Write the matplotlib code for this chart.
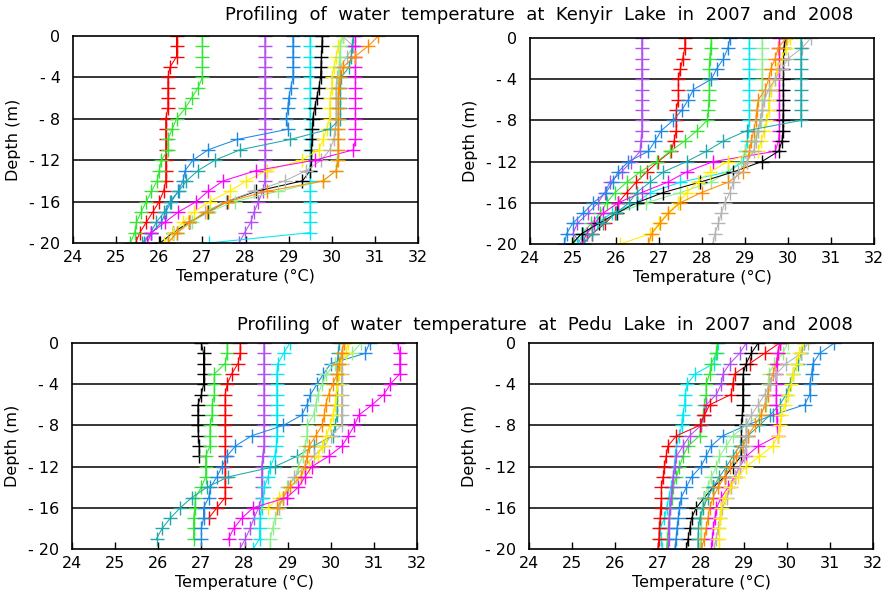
import numpy as np
import matplotlib.pyplot as plt

# depth levels (m), one reading per metre
DEPTHS = list(range(0, -21, -1))

COLORS = ['#ff0000', '#33e633', '#b050f0', '#1e88e5', '#00e8f0', '#000000',
          '#ffee00', '#b4b4b4', '#20a8a8', '#ff00ff', '#90ee90', '#ff8c00']

X_TICKS = [24, 25, 26, 27, 28, 29, 30, 31, 32]
Y_TICKS = [0, -4, -8, -12, -16, -20]

TITLE_KENYIR = 'Profiling  of  water  temperature  at  Kenyir  Lake  in  2007  and  2008'
TITLE_PEDU = 'Profiling  of  water  temperature  at  Pedu  Lake  in  2007  and  2008'

# Kenyir, left panel
red_k1 = [26.4, 26.4, 26.4, 26.25, 26.2, 26.2, 26.2, 26.2, 26.15, 26.15, 26.15,
          26.15, 26.15, 26.15, 26.15, 26.1, 26.0, 25.85, 25.7, 25.55, 25.45]
lime_k1 = [27.0, 27.0, 27.0, 27.0, 27.0, 26.9, 26.75, 26.6, 26.4, 26.3, 26.2,
           26.2, 26.05, 26.0, 25.95, 25.82, 25.7, 25.58, 25.47, 25.43, 25.33]
purple_k1 = [28.45, 28.45, 28.45, 28.45, 28.45, 28.45, 28.45, 28.45, 28.45, 28.45, 28.45,
             28.45, 28.45, 28.45, 28.45, 28.4, 28.3, 28.2, 28.12, 27.98, 27.85]
blue_k1 = [29.1, 29.1, 29.1, 29.1, 29.1, 29.05, 29.0, 28.98, 28.95, 28.99, 27.8,
           27.13, 26.78, 26.6, 26.55, 26.44, 26.28, 26.15, 26.05, 25.82, 25.64]
cyan_k1 = [29.5, 29.5, 29.5, 29.5, 29.5, 29.5, 29.5, 29.5, 29.5, 29.5, 29.5,
           29.5, 29.5, 29.5, 29.5, 29.5, 29.5, 29.5, 29.5, 29.5, 27.15]
black_k1 = [29.78, 29.77, 29.76, 29.75, 29.74, 29.7, 29.65, 29.6, 29.56, 29.55, 29.54,
            29.53, 29.53, 29.5, 29.32, 28.25, 27.56, 27.13, 26.69, 26.32, 26.02]
yellow_k1 = [30.25, 30.15, 30.1, 30.05, 30.0, 30.0, 29.97, 29.95, 29.95, 29.88, 29.8,
             29.7, 29.3, 28.5, 28.02, 27.63, 27.17, 26.8, 26.55, 26.33, 26.1]
gray_k1 = [30.25, 30.5, 30.35, 30.2, 30.12, 30.1, 30.1, 30.1, 30.1, 30.08, 30.05,
           29.95, 29.76, 29.41, 28.91, 28.2, 27.55, 27.05, 26.72, 26.42, 26.2]
teal_k1 = [30.5, 30.47, 30.45, 30.4, 30.22, 30.2, 30.2, 30.2, 30.2, 29.95, 29.03,
           27.87, 27.29, 26.9, 26.63, 26.45, 26.24, 26.12, 25.93, 25.8, 25.6]
magenta_k1 = [30.55, 30.55, 30.55, 30.55, 30.55, 30.55, 30.55, 30.55, 30.55, 30.55, 30.55,
              30.5, 29.6, 28.25, 27.48, 27.13, 26.86, 26.44, 26.13, 25.82, 25.72]
lgreen_k1 = [30.25, 30.2, 30.18, 30.17, 30.15, 30.15, 30.15, 30.15, 30.15, 30.15, 30.15,
             30.15, 30.12, 30.1, 29.8, 28.76, 27.75, 27.15, 26.75, 26.42, 26.2]
orange_k1 = [31.08, 30.84, 30.53, 30.26, 30.18, 30.16, 30.15, 30.15, 30.15, 30.15, 30.15,
             30.15, 30.15, 30.1, 29.8, 28.5, 27.6, 27.1, 26.7, 26.4, 26.2]

# Kenyir, right panel
purple_k2 = [26.6, 26.6, 26.6, 26.6, 26.6, 26.6, 26.6, 26.6, 26.6, 26.6, 26.58,
             26.56, 26.35, 26.13, 25.86, 25.74, 25.58, 25.35, 25.1, 25.0, 25.2]
red_k2 = [27.6, 27.6, 27.55, 27.5, 27.45, 27.45, 27.45, 27.4, 27.4, 27.4, 27.35,
          27.28, 26.98, 26.71, 26.47, 26.25, 26.05, 25.98, 25.75, 25.45, 25.2]
lime_k2 = [28.22, 28.2, 28.18, 28.17, 28.17, 28.17, 28.16, 28.15, 28.12, 27.88, 27.6,
           27.26, 26.95, 26.56, 26.25, 25.98, 25.78, 25.63, 25.43, 25.2, 25.0]
blue_k2 = [28.65, 28.6, 28.5, 28.34, 28.22, 27.8, 27.68, 27.53, 27.33, 27.05, 26.91,
           26.75, 26.29, 26.05, 25.92, 25.77, 25.47, 25.24, 24.99, 24.85, 24.8]
cyan_k2 = [29.1, 29.1, 29.1, 29.1, 29.1, 29.1, 29.1, 29.1, 29.1, 29.08, 29.05,
           29.0, 28.96, 28.6, 27.5, 26.79, 26.48, 25.9, 25.55, 25.24, 25.1]
lgreen_k2 = [29.4, 29.4, 29.4, 29.4, 29.4, 29.4, 29.4, 29.4, 29.38, 29.3, 29.2,
             29.0, 28.9, 28.6, 28.2, 27.5, 26.7, 26.0, 25.6, 25.3, 25.2]
magenta_k2 = [29.8, 29.8, 29.8, 29.8, 29.8, 29.8, 29.8, 29.8, 29.8, 29.8, 29.78,
              29.7, 28.26, 27.64, 27.2, 26.6, 26.05, 25.7, 25.5, 25.32, 25.2]
black_k2 = [29.95, 29.9, 29.89, 29.89, 29.89, 29.89, 29.89, 29.89, 29.88, 29.88, 29.86,
            29.78, 29.39, 28.73, 27.95, 27.1, 26.48, 26.02, 25.6, 25.2, 24.97]
yellow_k2 = [30.05, 29.95, 29.85, 29.75, 29.7, 29.6, 29.55, 29.55, 29.5, 29.45, 29.38,
             29.3, 28.6, 28.19, 27.9, 27.65, 27.45, 27.2, 27.0, 26.8, 26.1]
orange_k2 = [29.95, 29.77, 29.7, 29.6, 29.55, 29.47, 29.31, 29.27, 29.25, 29.2, 29.15,
             29.1, 29.05, 28.95, 28.61, 27.99, 27.49, 27.22, 27.02, 26.83, 26.75]
gray_k2 = [30.53, 30.32, 30.0, 29.85, 29.7, 29.55, 29.45, 29.4, 29.35, 29.3, 29.25,
           29.2, 29.05, 28.84, 28.73, 28.65, 28.53, 28.45, 28.38, 28.3, 28.25]
teal_k2 = [30.3, 30.3, 30.3, 30.3, 30.3, 30.3, 30.3, 30.3, 30.3, 29.04, 28.5,
           28.1, 27.64, 27.1, 26.79, 26.48, 26.3, 26.0, 25.7, 25.45, 25.25]

# Pedu, left panel
black_p1 = [27.0, 27.05, 27.05, 27.05, 27.05, 27.0, 26.92, 26.92, 26.92, 26.93, 26.95,
            26.95]
lime_p1 = [27.6, 27.6, 27.55, 27.3, 27.3, 27.3, 27.25, 27.25, 27.2, 27.2, 27.2,
           27.1, 27.1, 27.1, 27.0, 26.86, 26.85, 26.82, 26.82, 26.82]
red_p1 = [27.9, 27.9, 27.85, 27.7, 27.6, 27.55, 27.55, 27.55, 27.55, 27.55, 27.55,
          27.55, 27.55, 27.55, 27.55, 27.55, 27.36, 27.17]
purple_p1 = [28.45, 28.45, 28.45, 28.45, 28.45, 28.45, 28.45, 28.45, 28.45, 28.45, 28.45,
             28.42, 28.4, 28.4, 28.4, 28.4, 28.33, 28.22, 28.13, 28.02, 27.89]
cyan_p1 = [29.05, 28.91, 28.77, 28.75, 28.75, 28.75, 28.75, 28.75, 28.75, 28.75, 28.74,
           28.7, 28.6, 28.55, 28.46, 28.44, 28.4, 28.36, 28.35, 28.35, 28.2]
blue_p1 = [30.9, 30.8, 30.0, 29.83, 29.68, 29.53, 29.45, 29.33, 28.9, 28.17, 27.79,
           27.59, 27.48, 27.36, 27.21, 27.17, 27.05, 27.05, 27.0, 27.0]
teal_p1 = [30.2, 30.17, 30.15, 30.15, 30.15, 30.15, 30.15, 30.15, 30.1, 30.05, 29.6,
           29.22, 28.7, 27.62, 27.13, 26.78, 26.51, 26.28, 26.09, 25.96]
lgreen_p1 = [30.7, 30.49, 30.1, 29.9, 29.8, 29.7, 29.65, 29.6, 29.45, 29.45, 29.4,
             29.35, 29.25, 29.2, 28.98, 28.9, 28.8, 28.71, 28.65, 28.6, 28.6]
gray_p1 = [30.3, 30.25, 30.25, 30.25, 30.25, 30.25, 30.25, 30.25, 30.25, 30.0, 29.85,
           29.6, 29.4, 29.15, 29.0, 28.9, 28.8]
yellow_p1 = [30.4, 30.35, 30.22, 30.2, 30.15, 30.12, 30.1, 30.05, 29.98, 29.9, 29.8,
             29.7, 29.5, 29.3, 29.05, 28.8, 28.55]
orange_p1 = [30.3, 30.25, 30.2, 30.15, 30.05, 29.95, 29.88, 29.85, 29.8, 29.65, 29.5,
             29.45, 29.4, 29.3, 29.05, 28.9, 28.75]
magenta_p1 = [31.55, 31.6, 31.6, 31.6, 31.38, 31.23, 30.96, 30.65, 30.55, 30.41, 30.26,
              29.95, 29.56, 29.4, 29.25, 28.98, 28.2, 27.94, 27.75, 27.63]

# Pedu, right panel
cyan_p2 = [28.4, 28.37, 28.3, 27.86, 27.68, 27.63, 27.62, 27.57, 27.55, 27.5, 27.43,
           27.4, 27.38, 27.35, 27.3, 27.25, 27.2, 27.15, 27.05, 27.08, 27.1]
lime_p2 = [28.38, 28.35, 28.24, 28.2, 28.12, 28.12, 28.08, 28.05, 28.0, 27.97, 27.7,
           27.58, 27.5, 27.43, 27.35, 27.32, 27.27, 27.26, 27.24, 27.22, 27.2]
purple_p2 = [29.05, 28.9, 28.67, 28.51, 28.47, 28.36, 28.12, 28.08, 28.0, 27.74, 27.58,
             27.43, 27.4, 27.35, 27.33, 27.3, 27.28, 27.26, 27.25, 27.25, 27.24]
red_p2 = [29.83, 29.48, 29.13, 28.78, 28.74, 28.7, 28.2, 28.08, 27.97, 27.43, 27.23,
          27.19, 27.15, 27.12, 27.08, 27.08, 27.06, 27.05, 27.03, 27.02, 27.0]
black_p2 = [29.33, 29.17, 29.05, 28.98, 28.97, 28.97, 28.97, 28.96, 28.94, 28.94, 28.94,
            28.93, 28.74, 28.55, 28.28, 28.08, 27.89, 27.78, 27.74, 27.7, 27.66]
blue_p2 = [31.1, 30.76, 30.6, 30.57, 30.53, 30.53, 30.41, 29.67, 29.05, 28.51, 28.24,
           28.12, 28.0, 27.78, 27.66, 27.54, 27.5, 27.47, 27.44, 27.42, 27.39]
lgreen_p2 = [30.02, 29.9, 29.7, 29.58, 29.56, 29.55, 29.52, 29.36, 29.05, 28.74, 28.59,
             28.43, 28.36, 28.24, 28.16, 28.08, 28.02, 28.0, 28.0, 27.99, 27.98]
teal_p2 = [30.4, 30.33, 30.26, 30.14, 30.06, 29.98, 29.83, 29.6, 29.36, 29.09, 28.9,
           28.74, 28.59, 28.43, 28.28, 28.16, 28.05, 27.97, 27.94, 27.93, 27.93]
orange_p2 = [29.83, 29.79, 29.75, 29.67, 29.6, 29.55, 29.48, 29.4, 29.25, 29.09, 28.98,
             28.82, 28.67, 28.55, 28.4, 28.28, 28.2, 28.16, 28.12, 28.08, 28.0]
magenta_p2 = [29.83, 29.78, 29.76, 29.75, 29.75, 29.75, 29.75, 29.76, 29.77, 29.79, 29.33,
              29.05, 28.9, 28.78, 28.63, 28.47, 28.36, 28.32, 28.29, 28.26, 28.24]
gray_p2 = [30.49, 30.33, 29.98, 29.75, 29.6, 29.48, 29.33, 29.17, 29.05, 29.05, 29.05,
           29.0, 28.9, 28.8, 28.7, 28.6, 28.5, 28.45, 28.4, 28.35, 28.3]
yellow_p2 = [30.37, 30.29, 30.22, 30.14, 30.1, 30.02, 29.95, 29.87, 29.83, 29.79, 29.67,
             29.36, 29.05, 28.86, 28.67, 28.55, 28.47, 28.44, 28.43, 28.43, 28.43]

kenyir_left = [red_k1, lime_k1, purple_k1, blue_k1, cyan_k1, black_k1,
               yellow_k1, gray_k1, teal_k1, magenta_k1, lgreen_k1, orange_k1]
kenyir_right = [purple_k2, red_k2, lime_k2, blue_k2, cyan_k2, lgreen_k2,
                magenta_k2, black_k2, yellow_k2, orange_k2, gray_k2, teal_k2]
kenyir_right_colors = [COLORS[2], COLORS[0], COLORS[1], COLORS[3], COLORS[4], COLORS[10],
                       COLORS[9], COLORS[5], COLORS[6], COLORS[11], COLORS[7], COLORS[8]]
pedu_left = [black_p1, lime_p1, red_p1, purple_p1, cyan_p1, blue_p1,
             teal_p1, lgreen_p1, gray_p1, yellow_p1, orange_p1, magenta_p1]
pedu_left_colors = [COLORS[5], COLORS[1], COLORS[0], COLORS[2], COLORS[4], COLORS[3],
                    COLORS[8], COLORS[10], COLORS[7], COLORS[6], COLORS[11], COLORS[9]]
pedu_right = [cyan_p2, lime_p2, purple_p2, red_p2, black_p2, blue_p2,
              lgreen_p2, teal_p2, orange_p2, magenta_p2, gray_p2, yellow_p2]
pedu_right_colors = [COLORS[4], COLORS[1], COLORS[2], COLORS[0], COLORS[5], COLORS[3],
                     COLORS[10], COLORS[8], COLORS[11], COLORS[9], COLORS[7], COLORS[6]]

plt.rcParams['font.family'] = ['DejaVu Sans']

fig = plt.figure(figsize=(8.87, 5.96), dpi=100)
W, H = 887.0, 596.0


def panel(px_left, px_top, px_w, px_h, profiles, colors):
    ax = fig.add_axes([px_left / W, 1 - (px_top + px_h) / H, px_w / W, px_h / H])
    for temps, col in zip(profiles, colors):
        ax.plot(temps, DEPTHS[:len(temps)], color=col, lw=0.75, marker='+',
                ms=10, mew=1.0)
    ax.set_xlim(24, 32)
    ax.set_ylim(-20, 0)
    ax.set_xticks(X_TICKS)
    ax.set_yticks(Y_TICKS)
    ax.set_yticklabels(['0', '- 4', '- 8', '- 12', '- 16', '- 20'])
    for d in Y_TICKS[1:-1]:
        ax.axhline(d, color='black', lw=1.1, zorder=0)
    ax.tick_params(axis='x', direction='in', length=5, width=1, pad=5, labelsize=11.5)
    ax.tick_params(axis='y', length=0, pad=9, labelsize=11.5)
    for s in ax.spines.values():
        s.set_linewidth(1.2)
    ax.set_xlabel('Temperature (°C)', fontsize=11.5, labelpad=3)
    ax.set_ylabel('Depth (m)', fontsize=11.5, labelpad=6)
    return ax


panel(73, 36, 345, 207, kenyir_left, COLORS)
panel(530, 38, 344, 206, kenyir_right, kenyir_right_colors)
panel(72, 343, 345, 206, pedu_left, pedu_left_colors)
panel(529, 343, 344, 206, pedu_right, pedu_right_colors)

fig.text(853 / W, 1 - 15 / H, TITLE_KENYIR, ha='right', va='center', fontsize=13)
fig.text(853 / W, 1 - 325 / H, TITLE_PEDU, ha='right', va='center', fontsize=13)

fig.savefig('out.png', dpi=100)
